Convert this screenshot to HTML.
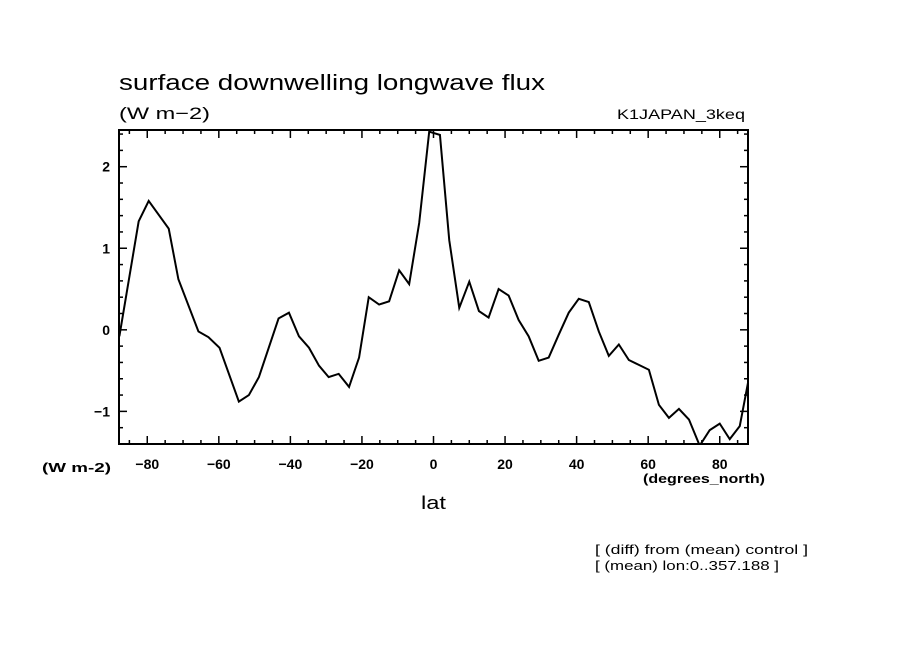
<!DOCTYPE html>
<html><head><meta charset="utf-8"><style>
body{margin:0;background:#fff;}
svg text{font-family:"Liberation Sans",sans-serif;fill:#000;}
</style></head><body>
<svg width="904" height="654" xmlns="http://www.w3.org/2000/svg">
<defs><clipPath id="clip"><rect x="119" y="130" width="629" height="314"/></clipPath></defs>
<text x="119" y="90" font-size="22" textLength="426" lengthAdjust="spacingAndGlyphs">surface downwelling longwave flux</text>
<text x="119" y="119" font-size="17" textLength="91" lengthAdjust="spacingAndGlyphs">(W m−2)</text>
<text x="617" y="119" font-size="14" textLength="128" lengthAdjust="spacingAndGlyphs">K1JAPAN_3keq</text>
<g id="axes"></g>
<g id="series" clip-path="url(#clip)"></g>
<rect x="119" y="130" width="629" height="314" fill="none" stroke="#000" stroke-width="2"/>
<text x="42" y="472" font-size="13" font-weight="bold" textLength="69" lengthAdjust="spacingAndGlyphs">(W m-2)</text>
<text x="643" y="483" font-size="13" font-weight="bold" textLength="122" lengthAdjust="spacingAndGlyphs">(degrees_north)</text>
<text x="421" y="509" font-size="18" textLength="25" lengthAdjust="spacingAndGlyphs">lat</text>
<text x="595" y="554" font-size="13" textLength="213" lengthAdjust="spacingAndGlyphs">[ (diff) from (mean) control ]</text>
<text x="595" y="570" font-size="13" textLength="184" lengthAdjust="spacingAndGlyphs">[ (mean) lon:0..357.188 ]</text>
</svg>
<script>
const lats=[-87.8,-82.4,-79.6,-74.0,-71.3,-65.7,-62.9,-59.8,-54.4,-51.6,-48.8,-43.3,-40.4,-37.6,-34.8,-32.0,-29.3,-26.5,-23.6,-20.8,-18.1,-15.2,-12.4,-9.6,-6.8,-4.0,-1.2,1.8,4.4,7.2,10.0,12.7,15.4,18.2,21.0,23.8,26.6,29.4,32.2,35.0,37.8,40.6,43.4,46.2,49.0,51.8,54.6,57.4,60.2,63.0,65.8,68.6,71.4,74.4,77.2,80.0,82.8,85.6,87.9];
const values=[-0.08,1.33,1.58,1.24,0.62,-0.02,-0.09,-0.22,-0.88,-0.80,-0.58,0.14,0.21,-0.08,-0.22,-0.44,-0.58,-0.54,-0.70,-0.34,0.40,0.31,0.35,0.73,0.56,1.31,2.43,2.39,1.10,0.27,0.59,0.23,0.15,0.50,0.42,0.12,-0.08,-0.38,-0.34,-0.06,0.21,0.38,0.34,-0.02,-0.32,-0.18,-0.37,-0.43,-0.49,-0.92,-1.08,-0.97,-1.10,-1.42,-1.23,-1.15,-1.34,-1.18,-0.65];
const xTicks=[-80,-60,-40,-20,0,20,40,60,80];
const yTicks=[-1,0,1,2];
const X0=119,X1=748,Y0=130,Y1=444,LMIN=-87.9,LMAX=87.9,VMIN=-1.40,VMAX=2.45;
const xs=l=>X0+(l-LMIN)/(LMAX-LMIN)*(X1-X0);
const ys=v=>Y1-(v-VMIN)/(VMAX-VMIN)*(Y1-Y0);
const NS="http://www.w3.org/2000/svg";
const axes=document.getElementById('axes');
function line(x1,y1,x2,y2,name){const e=document.createElementNS(NS,'line');e.setAttribute('x1',x1);e.setAttribute('y1',y1);e.setAttribute('x2',x2);e.setAttribute('y2',y2);e.setAttribute('stroke','#000');e.setAttribute('stroke-width','1.5');


axes.appendChild(e);}
function text(x,y,s,anchor,name){const t=document.createElementNS(NS,'text');t.setAttribute('x',x);t.setAttribute('y',y);t.setAttribute('font-size','14');t.setAttribute('font-weight','bold');t.setAttribute('text-anchor',anchor);t.textContent=s;


axes.appendChild(t);}
for(let l=-85;l<=85;l+=5){const x=xs(l);const major=l%20===0;const len=major?8:4;line(x,Y1,x,Y1-len,'x-tick');line(x,Y0,x,Y0+len,'x-tick-top');}
for(let v=-1.4;v<=2.45;v+=0.2){const vv=Math.round(v*10)/10;const y=ys(vv);const major=Math.abs(vv-Math.round(vv))<1e-6;const len=major?8:4;line(X0,y,X0+len,y,'y-tick');line(X1,y,X1-len,y,'y-tick-right');}
xTicks.forEach(l=>text(xs(l),469,l<0?'−'+Math.abs(l):String(l),'middle','x-tick-label'));
yTicks.forEach(v=>text(110,ys(v)+5,v<0?'−'+Math.abs(v):String(v),'end','y-tick-label'));
const p=document.createElementNS(NS,'polyline');
p.setAttribute('points',lats.map((l,i)=>xs(l)+','+ys(values[i])).join(' '));
p.setAttribute('fill','none');p.setAttribute('stroke','#000');p.setAttribute('stroke-width','2');


document.getElementById('series').appendChild(p);
</script>
</body></html>
